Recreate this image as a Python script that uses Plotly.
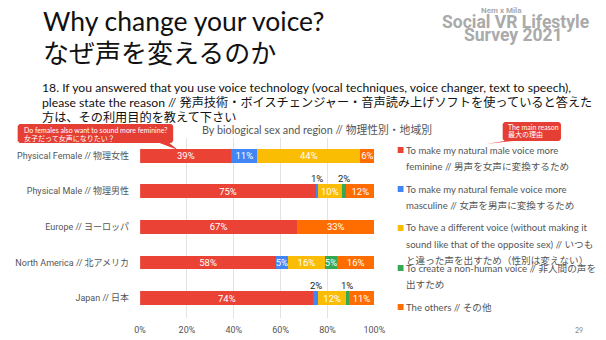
import plotly.graph_objects as go

W, H = 606, 340

categories = [
    "Physical Female // 物理女性",
    "Physical Male // 物理男性",
    "Europe // ヨーロッパ",
    "North America // 北アメリカ",
    "Japan // 日本",
]
series_names = [
    "To make my natural male voice more feminine // 男声を女声に変換するため",
    "To make my natural female voice more masculine // 女声を男声に変換するため",
    "To have a different voice (without making it sound like that of the opposite sex) // いつもと違った声を出すため（性別は変えない）",
    "To create a non-human voice // 非人間の声を出すため",
    "The others // その他",
]
legend_lines = [
    ["To make my natural male voice more", "feminine // 男声を女声に変換するため"],
    ["To make my natural female voice more", "masculine // 女声を男声に変換するため"],
    ["To have a different voice (without making it", "sound like that of the opposite sex) // いつも", "と違った声を出すため（性別は変えない）"],
    ["To create a non-human voice // 非人間の声を", "出すため"],
    ["The others // その他"],
]
feminine = [39, 75, 67, 58, 74]
masculine = [11, 1, 0, 5, 2]
different = [44, 10, 0, 16, 12]
nonhuman = [0, 2, 0, 5, 1]
others = [6, 12, 33, 16, 11]
series = [feminine, masculine, different, nonhuman, others]
colors = ["#EA4335", "#4285F4", "#FBBC04", "#34A853", "#FF6D01"]
x_ticks = [0, 20, 40, 60, 80, 100]
x_tick_labels = ["0%", "20%", "40%", "60%", "80%", "100%"]

FONT = "Noto Sans CJK JP"
SLIDE = "Lato, Noto Sans CJK JP"
CHART = "Roboto, Noto Sans CJK JP"


def px(x):
    return x / W


def py(y):
    return 1 - y / H


def note(x, y, text, size, color, anchor="left", family=SLIDE):
    return dict(x=px(x), y=py(y), xref="paper", yref="paper", text=text, showarrow=False,
                xanchor=anchor, yanchor="middle", font=dict(size=size, color=color, family=family))


fig = go.Figure()
for name, vals, col in zip(series_names, series, colors):
    fig.add_trace(go.Bar(
        y=categories, x=vals, name=name, orientation="h",
        marker=dict(color=col, line=dict(width=0)),
        text=[f"{v}%" if v >= 3 else "" for v in vals],
        textposition="inside", insidetextanchor="middle", textangle=0,
        textfont=dict(color="white", size=9.5, family=CHART),
        cliponaxis=False,
        showlegend=False,
    ))

annotations = []
# small-segment labels above bars
for ci, cat in enumerate(categories):
    cum = 0
    for vals in series:
        v = vals[ci]
        if 0 < v < 3:
            annotations.append(dict(
                x=cum + v / 2, y=cat, xref="x", yref="y", text=f"{v}%",
                showarrow=False, yanchor="bottom", yshift=5,
                font=dict(size=9.5, color="#222", family=CHART)))
        cum += v

# titles
annotations += [
    note(36, 21, "Why change your voice?", 26.5, "#111"),
    note(36, 51, "なぜ声を変えるのか", 26, "#111", family=FONT),
    note(510, 10, "<b>Nem x Mila</b>", 8, "#aaaaaa", "center", "Roboto"),
    note(524, 22, "<b>Social VR Lifestyle</b>", 17.5, "#aaaaaa", "center", "Roboto"),
    note(522, 35, "<b>Survey 2021</b>", 17.5, "#aaaaaa", "center", "Roboto"),
]
q_lines = [
    "18. If you answered that you use voice technology (vocal techniques, voice changer, text to speech),",
    "please state the reason // 発声技術・ボイスチェンジャー・音声読み上げソフトを使っていると答えた",
    "方は、その利用目的を教えて下さい",
]
for i, t in enumerate(q_lines):
    annotations.append(note(35, 87 + 15 * i, t, 12.2, "#111"))
annotations.append(note(320, 129, "By biological sex and region // 物理性別・地域別", 10.8, "#555", "center"))

# legend
legend_y = [150, 189, 228, 268, 307]
shapes = []
for i, lines in enumerate(legend_lines):
    y0 = legend_y[i]
    shapes.append(dict(type="rect", xref="paper", yref="paper",
                       x0=px(403), x1=px(409), y0=py(y0 + 3), y1=py(y0 - 3),
                       fillcolor=colors[i], line=dict(width=0)))
    for j, t in enumerate(lines):
        annotations.append(note(410, y0 + 16 * j, t, 9.6, "#555"))


def path(points):
    return "M " + " L ".join(f"{px(x)},{py(y)}" for x, y in points) + " Z"


# callouts
shapes.append(dict(type="path", xref="paper", yref="paper",
                   path=path([(14, 124), (170, 124), (172, 126), (172, 141), (170, 143), (168, 143),
                              (177, 150), (158, 143), (14, 143), (12, 141), (12, 126)]),
                   fillcolor="#E53E35", line=dict(width=0)))
annotations += [
    note(16, 130, "Do females also want to sound more feminine?", 7, "white"),
    note(16, 138, "女子だって女声になりたい？", 7, "white"),
]
shapes.append(dict(type="path", xref="paper", yref="paper",
                   path=path([(513, 122), (569, 122), (571, 124), (571, 139), (569, 141), (522, 141),
                              (494, 144), (513, 141), (511, 139), (511, 124)]),
                   fillcolor="#E53E35", line=dict(width=0)))
annotations += [
    note(514, 127, "The main reason", 7, "white"),
    note(514, 135, "最大の理由", 7, "white"),
    note(590, 330, "29", 7, "#888", "center"),
]

fig.update_layout(
    width=W, height=H, barmode="stack", bargap=0.61,
    margin=dict(l=0, r=0, t=0, b=0),
    paper_bgcolor="white", plot_bgcolor="white",
    font=dict(family=CHART),
    uniformtext=dict(minsize=9, mode="show"),
    xaxis=dict(domain=[px(138), px(379)], range=[0, 100], tickvals=x_ticks, ticktext=x_tick_labels,
               showgrid=True, gridcolor="#e3e3e3", gridwidth=1, zeroline=False, showline=False,
               tickfont=dict(size=9, color="#555", family=CHART), ticks="", ticklabelstandoff=5,
               fixedrange=True),
    yaxis=dict(domain=[py(318), py(138)], autorange="reversed", showgrid=False, zeroline=False,
               tickfont=dict(size=9, color="#555", family=CHART), ticks="", ticklabelstandoff=10),
    annotations=annotations, shapes=shapes,
)

fig.write_html("out.html")
